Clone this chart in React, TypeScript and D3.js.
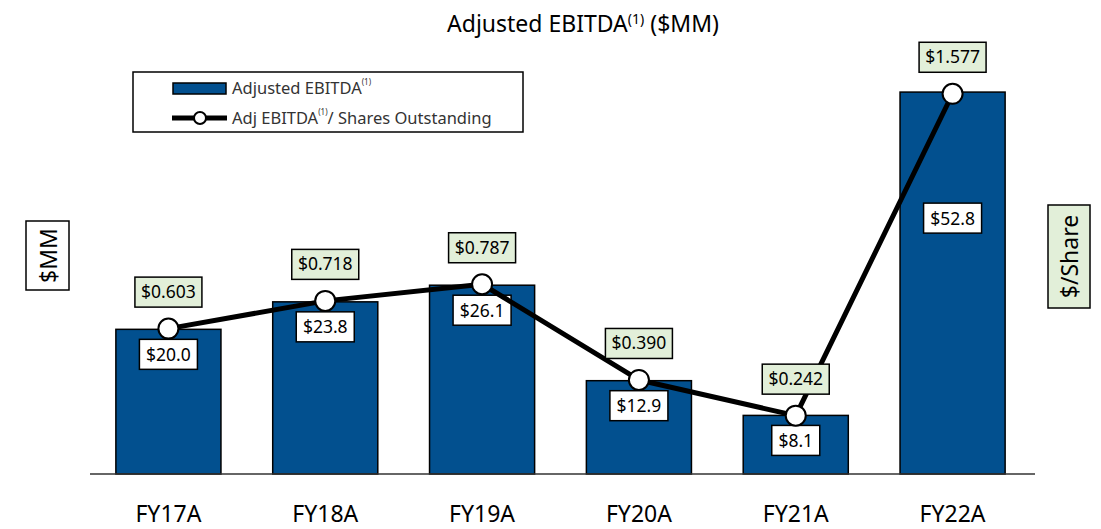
import React from "react";
import * as d3 from "d3";

const categories = ["FY17A", "FY18A", "FY19A", "FY20A", "FY21A", "FY22A"];
const ebitda = [20.0, 23.8, 26.1, 12.9, 8.1, 52.8];
const perShare = [0.603, 0.718, 0.787, 0.39, 0.242, 1.577];
const ebitdaLabels = ["$20.0", "$23.8", "$26.1", "$12.9", "$8.1", "$52.8"];
const perShareLabels = ["$0.603", "$0.718", "$0.787", "$0.390", "$0.242", "$1.577"];

const W = 1101;
const H = 529;
const FONT = "'Noto Sans', 'Open Sans', sans-serif";
const BAR = "#02508F";
const GREEN = "#E2EFD9";

export default function App() {
  const x = d3.scaleBand<string>().domain(categories).range([90, 1031]).paddingInner(0.33).paddingOuter(0.165);
  const yL = d3.scaleLinear().domain([0, 60]).range([474, 40]);
  const yR = d3.scaleLinear().domain([0, 1.8]).range([474, 40]);
  const cx = (c: string) => (x(c) as number) + x.bandwidth() / 2;
  const line = d3
    .line<number>()
    .x((_, i) => cx(categories[i]))
    .y((d) => yR(d));

  return (
    <svg width={W} height={H} style={{ position: "absolute", left: 0, top: 0, background: "#fff" }} fontFamily={FONT}>
      {/* title */}
      <text x={583} y={32} textAnchor="middle" fontSize={23} fill="#000">
        Adjusted EBITDA
        <tspan fontSize={14} dy={-8}>(1)</tspan>
        <tspan dy={8}> ($MM)</tspan>
      </text>

      {/* bars */}
      {categories.map((c, i) => (
        <rect
          key={c}
          x={x(c)}
          y={yL(ebitda[i])}
          width={x.bandwidth()}
          height={yL(0) - yL(ebitda[i])}
          fill={BAR}
          stroke="#000"
          strokeWidth={1.5}
        />
      ))}

      {/* axis */}
      <line x1={90} x2={1035} y1={yL(0)} y2={yL(0)} stroke="#333" strokeWidth={1.5} />
      {categories.map((c) => (
        <text key={c} x={cx(c)} y={522} textAnchor="middle" fontSize={23} fill="#000">
          {c}
        </text>
      ))}

      {/* bar value labels */}
      {categories.map((c, i) => {
        const last = i === categories.length - 1;
        const cy = last ? yL(ebitda[i] * 0.67) : yL(ebitda[i]) + 25;
        const w = ebitdaLabels[i].length > 4 ? 58 : 48;
        return (
          <g key={c}>
            <rect x={cx(c) - w / 2} y={cy - 15} width={w} height={30} fill="#fff" stroke="#000" strokeWidth={1.5} />
            <text x={cx(c)} y={cy + 6.5} textAnchor="middle" fontSize={17.5} fill="#000">
              {ebitdaLabels[i]}
            </text>
          </g>
        );
      })}

      {/* line */}
      <path d={line(perShare) || ""} fill="none" stroke="#000" strokeWidth={5} strokeLinejoin="round" />
      {categories.map((c, i) => (
        <circle key={c} cx={cx(c)} cy={yR(perShare[i])} r={10} fill="#fff" stroke="#000" strokeWidth={2} />
      ))}

      {/* per share labels */}
      {categories.map((c, i) => {
        const cy = yR(perShare[i]) - 37;
        return (
          <g key={c}>
            <rect x={cx(c) - 33.5} y={cy - 14.5} width={67} height={30} fill={GREEN} stroke="#000" strokeWidth={1.5} />
            <text x={cx(c)} y={cy + 6.5} textAnchor="middle" fontSize={17.5} fill="#000">
              {perShareLabels[i]}
            </text>
          </g>
        );
      })}

      {/* legend */}
      <rect x={133} y={72} width={390} height={60} fill="#fff" stroke="#000" strokeWidth={1.5} />
      <rect x={173} y={83} width={53} height={11} fill={BAR} stroke="#000" strokeWidth={1.5} />
      <text x={232} y={94} fontSize={16.5} fill="#333">
        Adjusted EBITDA
        <tspan fontSize={8} dy={-9}>(1)</tspan>
      </text>
      <line x1={172} x2={227} y1={118} y2={118} stroke="#000" strokeWidth={5} />
      <circle cx={200} cy={118} r={6} fill="#fff" stroke="#000" strokeWidth={2} />
      <text x={232} y={124} fontSize={16.5} fill="#333">
        Adj EBITDA
        <tspan fontSize={8} dy={-9}>(1)</tspan>
        <tspan dy={9}>/ Shares Outstanding</tspan>
      </text>

      {/* axis titles */}
      <rect x={26} y={221} width={43} height={69} fill="#fff" stroke="#000" strokeWidth={1.5} />
      <text transform={`translate(56.5,255.5) rotate(-90)`} textAnchor="middle" fontSize={23} fill="#000">
        $MM
      </text>
      <rect x={1048} y={205} width={42} height={103} fill={GREEN} stroke="#000" strokeWidth={1.5} />
      <text transform={`translate(1077.5,256.5) rotate(-90)`} textAnchor="middle" fontSize={23} fill="#000">
        $/Share
      </text>
    </svg>
  );
}
